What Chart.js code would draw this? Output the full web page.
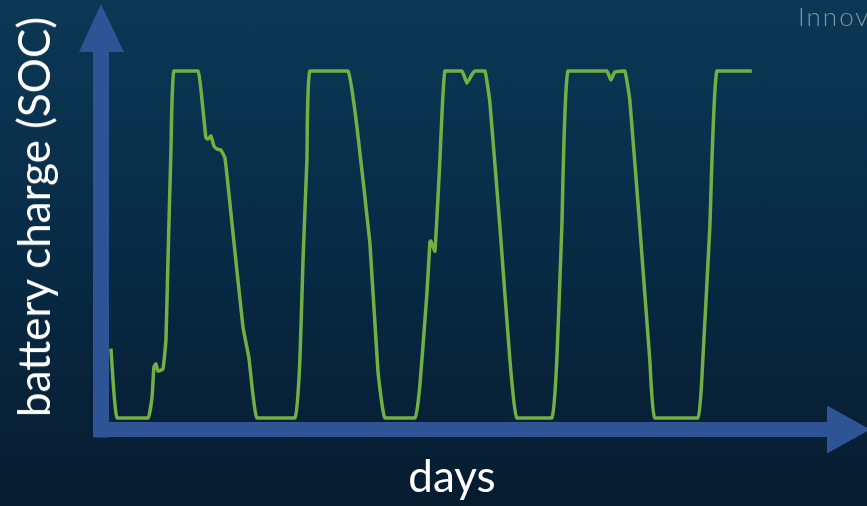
<!DOCTYPE html>
<html>
<head>
<meta charset="utf-8">
<script src="https://cdn.jsdelivr.net/npm/chart.js@4.4.1/dist/chart.umd.min.js"></script>
<style>
  html, body { margin: 0; padding: 0; }
  body {
    width: 867px; height: 506px; overflow: hidden; position: relative;
    background: linear-gradient(180deg, #0b3855 0%, #082c47 45%, #061c2f 100%);
    font-family: Lato, "Open Sans", sans-serif;
  }
  #socChart { position: absolute; left: 0; top: 0; }
  .axisTitle { position: absolute; color: #fff; white-space: nowrap; font-size: 44px; }
  #yTitle { left: 33px; top: 217px; transform: translate(-50%, -50%) rotate(-90deg); }
  #xTitle { left: 452px; top: 475px; transform: translate(-50%, -50%); }
  #corner { position: absolute; left: 798px; top: 0px; color: #7f93a4; font-size: 26px; font-weight: 300; letter-spacing: 2px; white-space: nowrap; }
</style>
</head>
<body>
<canvas id="socChart" width="867" height="506"></canvas>
<div class="axisTitle" id="yTitle">battery charge (SOC)</div>
<div class="axisTitle" id="xTitle">days</div>
<div id="corner">Innovation</div>
<script>
// time in days, state of charge in %
const days = [0.007, 0.052, 0.281, 0.311, 0.325, 0.340, 0.355, 0.392, 0.414, 0.429, 0.451, 0.473,
  0.651, 0.688, 0.710, 0.725, 0.747, 0.769, 0.791, 0.821, 0.851, 0.910, 0.984, 1.028, 1.087,
  1.368, 1.405, 1.428, 1.457, 1.479,
  1.760, 1.827, 1.923, 1.982, 2.034,
  2.256, 2.293, 2.345, 2.367, 2.374, 2.404, 2.441, 2.478,
  2.604, 2.641, 2.678, 2.700, 2.774, 2.811, 2.885, 2.959, 3.010,
  3.269, 3.306, 3.343, 3.388,
  3.676, 3.706, 3.735, 3.809, 3.846, 3.920, 3.994, 4.031,
  4.349, 4.386, 4.438, 4.490, 4.749];
const soc = [20, 0, 0, 6, 14.7, 15.6, 13.5, 14.1, 22.5, 45.5, 77.2, 100,
  100, 88.8, 80.7, 80.4, 81.3, 78.4, 77.5, 77.2, 74.9, 53.3, 26.2, 17.3, 0,
  0, 16.7, 45.5, 74.4, 100,
  100, 83.9, 50.4, 13.8, 0,
  0, 9.5, 36.0, 50.7, 51.0, 48.1, 74.4, 100,
  100, 96.5, 99, 100, 100, 90.8, 55.0, 16.7, 0,
  0, 16.7, 55.0, 100,
  100, 97.4, 99.7, 100, 91.6, 55.0, 16.7, 0,
  0, 16.7, 55.0, 100, 100];

const arrowBlue = '#2f5496';

// thick arrow axes drawn behind the curve
const arrowAxes = {
  id: 'arrowAxes',
  beforeDatasetsDraw(chart) {
    const ctx = chart.ctx;
    const ca = chart.chartArea;
    const vx = ca.left - 9;          // centre of vertical shaft
    const hy = ca.bottom + 11.5;     // centre of horizontal shaft
    ctx.save();
    ctx.fillStyle = arrowBlue;
    // vertical shaft + head
    ctx.fillRect(vx - 8, 52, 16, hy + 8 - 52);
    ctx.beginPath();
    ctx.moveTo(vx, 4);
    ctx.lineTo(vx + 23, 52);
    ctx.lineTo(vx - 22, 52);
    ctx.closePath();
    ctx.fill();
    // horizontal shaft + head
    ctx.fillRect(vx - 8, hy - 7.5, 827 - (vx - 8), 15);
    ctx.beginPath();
    ctx.moveTo(827, hy - 24);
    ctx.lineTo(870, hy);
    ctx.lineTo(827, hy + 24);
    ctx.closePath();
    ctx.fill();
    ctx.restore();
  }
};

new Chart(document.getElementById('socChart'), {
  type: 'line',
  data: {
    datasets: [{
      data: days.map((d, i) => ({ x: d, y: soc[i] })),
      borderColor: '#72b043',
      borderWidth: 3.5,
      pointRadius: 0,
      tension: 0.1,
      borderJoinStyle: 'round',
      clip: false
    }]
  },
  options: {
    responsive: false,
    animation: false,
    layout: { padding: { left: 110, right: 115, top: 71, bottom: 88 } },
    plugins: { legend: { display: false }, tooltip: { enabled: false } },
    scales: {
      x: { type: 'linear', min: 0, max: 4.75, display: false },
      y: { min: 0, max: 100, display: false }
    }
  },
  plugins: [arrowAxes]
});
</script>
</body>
</html>
